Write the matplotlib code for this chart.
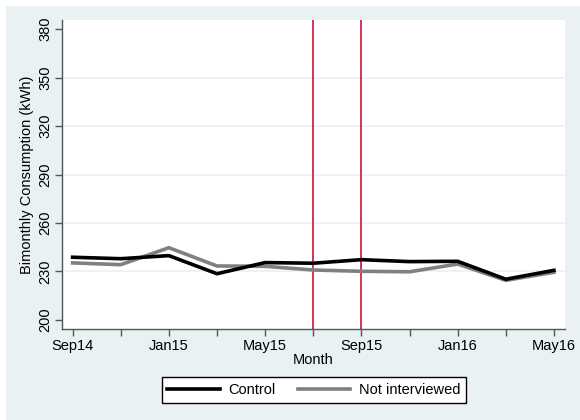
import matplotlib
matplotlib.use("Agg")
import matplotlib.pyplot as plt
from matplotlib.patches import Rectangle

plt.rcParams['font.family'] = ['Liberation Sans', 'DejaVu Sans']

months = ["Sep14", "Nov14", "Jan15", "Mar15", "May15", "Jul15",
          "Sep15", "Nov15", "Jan16", "Mar16", "May16"]
control = [238.8, 237.9, 239.8, 228.6, 235.5, 235.1, 237.3, 236.1, 236.3, 225.2, 230.7]
not_interviewed = [235.3, 234.2, 244.7, 233.4, 233.2, 230.9, 230.1, 229.8, 234.6, 224.5, 229.5]
tick_labels = ["Sep14", "Jan15", "May15", "Sep15", "Jan16", "May16"]
vlines = ["Jul15", "Sep15"]
yticks = [200, 230, 260, 290, 320, 350, 380]

W, H = 580, 420
fig = plt.figure(figsize=(5.8, 4.2), dpi=100, facecolor='white')
bg = '#EAF1F3'
rect = Rectangle((6 / W, 0), 1 - 6 / W, 1 - 6 / H, transform=fig.transFigure,
                 facecolor=bg, edgecolor='none', zorder=-10)
fig.patches.append(rect)

ax = fig.add_axes([62 / W, 1 - 329 / H, (565 - 62) / W, (329 - 20) / H])
ax.set_facecolor('white')

x = list(range(len(months)))
for grid_y in yticks[1:-1]:
    ax.axhline(grid_y, color=bg, lw=1.2, zorder=1)
for v in vlines:
    ax.axvline(months.index(v), color='#D0103A', lw=1.2, zorder=2)

ax.plot(x, control, color='black', lw=2.6, label='Control', zorder=4)
ax.plot(x, not_interviewed, color='#808080', lw=2.6, label='Not interviewed', zorder=3)

ax.set_xlim(-0.22, 10.23)
ax.set_ylim(194.4, 385.6)
ax.set_xticks(x)
ax.set_xticklabels([m if m in tick_labels else '' for m in months], fontsize=10.5)
ax.set_yticks(yticks)
ax.set_yticklabels([str(t) for t in yticks], rotation=90, va='center', fontsize=10.5)

for s in ['top', 'right']:
    ax.spines[s].set_visible(False)
for s in ['left', 'bottom']:
    ax.spines[s].set_color('#555555')
    ax.spines[s].set_linewidth(1.0)
ax.tick_params(axis='both', direction='out', length=5, width=1.0, color='#555555', pad=2)

ax.set_xlabel('Month', fontsize=10.5, labelpad=0)
ax.set_ylabel('Bimonthly Consumption (kWh)', fontsize=10.5, labelpad=3)

leg = fig.legend(loc='center', bbox_to_anchor=(314 / W, 1 - 390 / H), ncol=2, fontsize=10.5,
                 frameon=True, fancybox=False, edgecolor='black', framealpha=1,
                 handlelength=3.6, handletextpad=0.6, columnspacing=1.5, borderpad=0.4)
leg.get_frame().set_linewidth(1.0)

fig.savefig('out.png', dpi=100, facecolor=fig.get_facecolor())
